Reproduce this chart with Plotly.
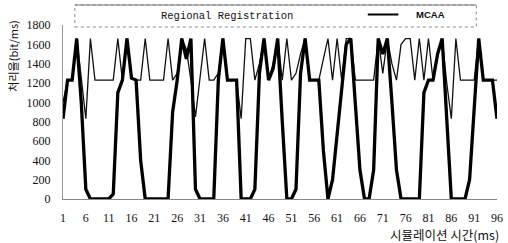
import plotly.graph_objects as go

# ---- data ----
time_ms = list(range(1, 97))
regional = [1000, 1230, 1230, 1660, 1250, 830, 1660, 1230, 1230, 1230,
            1230, 1230, 1660, 1230, 1660, 1250, 1230, 1230, 1660, 1230,
            1230, 1230, 1230, 1660, 1230, 1300, 1660, 1550, 1230, 850,
            1250, 1660, 1230, 1230, 1300, 1660, 1230, 1230, 1230, 830,
            1660, 1660, 1230, 1400, 1660, 1230, 1400, 1660, 1230, 1660,
            1230, 1300, 1500, 1660, 1230, 1230, 1230, 1450, 1660, 1230,
            1660, 1230, 1660, 1660, 1230, 1230, 1230, 1230, 1230, 1660,
            1300, 1660, 1400, 1230, 1600, 1660, 1660, 1230, 1660, 1230,
            1660, 1230, 1500, 1660, 1200, 830, 1660, 1230, 1230, 1230,
            1230, 1660, 1230, 1230, 1230, 1230]
mcaa = [830, 1230, 1230, 1660, 1000, 100, 0, 0, 0, 0,
        0, 50, 1100, 1230, 1660, 1250, 1230, 400, 0, 0,
        0, 0, 0, 0, 900, 1230, 1660, 1450, 1660, 100,
        0, 0, 0, 0, 1230, 1660, 1230, 1230, 1230, 0,
        0, 0, 100, 1300, 1660, 1230, 1350, 1660, 800, 0,
        0, 100, 1300, 1660, 1230, 1230, 1230, 500, 0, 200,
        650, 1100, 1600, 1660, 1000, 300, 0, 0, 300, 1660,
        1500, 1660, 1000, 300, 0, 0, 0, 0, 0, 1100,
        1230, 1230, 1500, 1660, 830, 0, 0, 0, 0, 200,
        950, 1660, 1230, 1230, 1230, 830]
x_ticks = list(range(1, 97, 5))
y_ticks = list(range(0, 1801, 200))
series_names = ["Regional Registration", "MCAA"]
y_title = "처리율(bit/ms)"
x_title = "시뮬레이션 시간(ms)"

W, H = 508, 243
L, R, T, B = 63, 5, 25, 44
PW, PH = W - L - R, H - T - B


def px(xp):
    return (xp - L) / PW


def py(yp):
    return (H - B - yp) / PH


fig = go.Figure()
fig.add_trace(go.Scatter(x=time_ms, y=regional, mode="lines", name=series_names[0],
                         line=dict(color="#111111", width=1.3), showlegend=False))
fig.add_trace(go.Scatter(x=time_ms, y=mcaa, mode="lines", name=series_names[1],
                         line=dict(color="#000000", width=3.3), showlegend=False))

serif = "Liberation Serif"
kfont = "Noto Sans CJK KR"

fig.update_layout(
    width=W, height=H,
    margin=dict(l=L, r=R, t=T, b=B, pad=0),
    paper_bgcolor="white", plot_bgcolor="white",
    xaxis=dict(range=[1, 96], tickvals=x_ticks, ticktext=[str(v) for v in x_ticks],
               showgrid=False, zeroline=False, showline=True, linecolor="#888888",
               linewidth=1, ticks="", ticklabelstandoff=8, ticklabeloverflow="allow",
               tickfont=dict(family=serif, size=12, color="#111")),
    yaxis=dict(range=[0, 1800], tickvals=y_ticks, showgrid=False, zeroline=False,
               showline=True, linecolor="#999999", linewidth=1, ticks="",
               ticklabelstandoff=9,
               tickfont=dict(family=serif, size=12, color="#111")),
    shapes=[
        dict(type="rect", xref="paper", yref="paper",
             x0=px(75), x1=px(482), y0=py(27), y1=py(5),
             line=dict(color="#888888", width=1, dash="dot"), fillcolor="rgba(0,0,0,0)"),
        dict(type="line", xref="paper", yref="paper",
             x0=px(75), x1=px(482), y0=py(5), y1=py(5),
             line=dict(color="#777777", width=1)),
        dict(type="line", xref="paper", yref="paper",
             x0=px(372), x1=px(403), y0=py(14.5), y1=py(14.5),
             line=dict(color="#000000", width=2)),
    ],
    annotations=[
        dict(text=series_names[0], xref="paper", yref="paper", x=px(229), y=py(16),
             showarrow=False, xanchor="center", yanchor="middle",
             font=dict(family="Liberation Mono", size=10.5, color="#111")),
        dict(text="<b>" + series_names[1] + "</b>", xref="paper", yref="paper", x=px(419), y=py(15),
             showarrow=False, xanchor="left", yanchor="middle",
             font=dict(family="Liberation Sans", size=9.5, color="#111")),
        dict(text=y_title, xref="paper", yref="paper", x=px(12), y=py(56),
             showarrow=False, textangle=-90, xanchor="center", yanchor="middle",
             font=dict(family=kfont, size=11, color="#111")),
        dict(text=x_title, xref="paper", yref="paper", x=px(507), y=py(234),
             showarrow=False, xanchor="right", yanchor="middle",
             font=dict(family=kfont, size=12.5, color="#111")),
    ],
)

fig.write_html("out.html", config={"displayModeBar": False},
               post_script="document.body.style.margin='0px';document.body.style.overflow='hidden';")
